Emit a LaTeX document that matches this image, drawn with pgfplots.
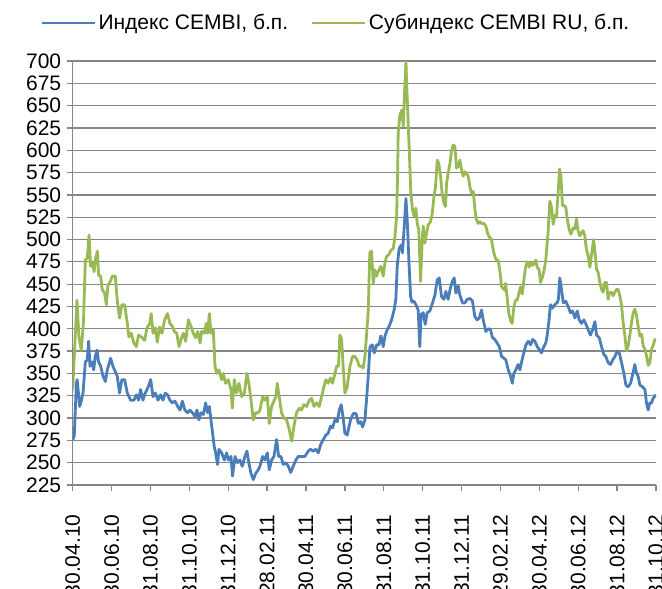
\documentclass[border=0pt]{standalone}
\usepackage{fontspec}
\setmainfont{Liberation Sans}
\usepackage{pgfplots}
\usepackage{pgfplotstable}
\pgfplotsset{compat=1.18}
\definecolor{cblue}{HTML}{4A7EBB}
\definecolor{cgreen}{HTML}{98B954}
\definecolor{cgrid}{HTML}{868686}

\pgfplotstableread{
m v
0.00 275
0.08 280
0.19 339
0.23 343
0.36 313
0.44 319
0.53 328
0.65 363
0.75 365
0.82 386
0.89 358
0.99 363
1.08 354
1.16 369
1.25 376
1.33 363
1.44 358
1.56 347
1.68 341
1.78 354
1.95 367
2.07 358
2.19 352
2.29 347
2.41 328
2.53 343
2.67 343
2.81 328
2.98 320
3.15 320
3.27 326
3.39 320
3.49 332
3.61 320
3.73 328
3.87 334
4.01 343
4.13 324
4.25 328
4.39 320
4.52 326
4.64 320
4.76 328
4.88 326
5.00 320
5.12 317
5.26 319
5.40 313
5.52 309
5.64 319
5.77 309
5.91 306
6.03 309
6.15 306
6.29 302
6.39 309
6.49 298
6.60 306
6.72 304
6.84 317
6.94 306
7.03 313
7.15 291
7.28 268
7.35 261
7.45 248
7.52 265
7.66 261
7.80 253
7.92 261
8.00 253
8.14 257
8.22 235
8.35 257
8.48 250
8.60 253
8.72 246
8.86 257
8.96 263
9.06 250
9.17 238
9.29 231
9.41 238
9.54 242
9.63 246
9.77 257
9.89 253
10.01 261
10.11 242
10.23 253
10.35 257
10.49 276
10.59 257
10.71 257
10.83 248
10.97 250
11.09 246
11.21 239
11.34 246
11.48 253
11.60 257
11.77 257
11.94 257
12.12 263
12.23 265
12.37 263
12.51 265
12.63 261
12.75 270
12.89 276
13.02 281
13.14 283
13.26 291
13.36 289
13.49 298
13.61 296
13.71 309
13.81 315
13.91 300
14.00 283
14.12 281
14.29 298
14.43 305
14.57 305
14.69 294
14.81 296
14.91 290
15.03 298
15.11 320
15.20 347
15.29 380
15.41 382
15.51 373
15.63 382
15.75 382
15.85 392
15.97 380
16.06 392
16.18 399
16.28 403
16.40 410
16.52 420
16.62 433
16.69 470
16.79 490
16.91 494
16.96 485
17.03 507
17.14 546
17.22 515
17.29 477
17.38 436
17.45 430
17.55 431
17.65 427
17.77 421
17.85 380
17.92 416
18.03 418
18.13 405
18.23 418
18.37 420
18.51 429
18.63 438
18.75 455
18.85 457
18.97 436
19.09 433
19.19 442
19.31 433
19.43 446
19.53 453
19.62 457
19.71 440
19.83 448
19.91 438
20.05 429
20.17 429
20.29 433
20.43 434
20.56 431
20.68 414
20.80 410
20.91 412
21.03 421
21.11 410
21.25 397
21.37 400
21.49 399
21.59 390
21.71 388
21.83 384
21.94 380
22.06 369
22.18 367
22.28 365
22.40 354
22.52 347
22.61 339
22.69 350
22.79 354
22.91 360
23.00 354
23.08 362
23.20 373
23.31 382
23.43 386
23.55 382
23.65 388
23.77 386
23.89 380
24.02 376
24.11 373
24.23 380
24.33 384
24.40 392
24.50 410
24.57 427
24.67 423
24.79 427
24.91 429
24.98 433
25.05 457
25.14 444
25.23 429
25.36 431
25.48 425
25.60 418
25.71 420
25.83 412
25.95 420
26.05 410
26.17 406
26.29 410
26.40 405
26.51 399
26.63 393
26.74 399
26.86 408
26.94 393
27.08 390
27.20 380
27.32 371
27.42 369
27.54 362
27.66 360
27.77 365
27.89 369
28.00 375
28.11 373
28.23 362
28.35 350
28.45 337
28.57 335
28.69 339
28.79 348
28.91 360
29.00 350
29.08 347
29.17 337
29.31 335
29.43 332
29.51 317
29.60 309
29.68 317
29.77 317
29.85 322
30.00 326
}\blue

\pgfplotstableread{
m v
0.00 332
0.22 432
0.32 391
0.44 376
0.55 406
0.65 477
0.75 479
0.84 505
0.92 470
1.01 475
1.10 464
1.16 477
1.27 487
1.33 460
1.44 459
1.52 444
1.64 440
1.73 427
1.81 448
1.93 453
2.04 459
2.19 459
2.29 432
2.41 412
2.53 427
2.67 427
2.81 406
2.89 391
3.01 395
3.15 384
3.27 380
3.39 393
3.53 391
3.70 387
3.82 401
3.96 406
4.04 417
4.13 395
4.25 401
4.35 385
4.47 402
4.59 395
4.73 410
4.88 417
5.00 406
5.12 403
5.23 397
5.35 395
5.47 380
5.57 388
5.69 395
5.81 386
5.95 410
6.08 403
6.20 395
6.32 390
6.43 397
6.55 384
6.63 397
6.77 395
6.87 406
6.94 395
7.03 417
7.11 395
7.23 399
7.32 358
7.40 350
7.52 354
7.66 343
7.74 350
7.86 339
8.00 343
8.14 332
8.21 311
8.31 343
8.43 328
8.55 339
8.69 324
8.83 328
8.96 350
9.06 339
9.17 320
9.29 298
9.41 306
9.54 306
9.63 309
9.77 324
9.89 320
10.01 324
10.11 294
10.23 313
10.35 319
10.45 324
10.52 339
10.62 324
10.74 306
10.86 300
11.00 298
11.14 287
11.26 274
11.38 291
11.51 306
11.65 311
11.77 309
11.89 315
12.03 313
12.17 320
12.29 322
12.41 313
12.54 317
12.68 313
12.80 324
12.92 335
13.02 343
13.14 339
13.26 345
13.36 339
13.49 350
13.57 358
13.67 358
13.74 393
13.83 388
13.91 358
14.00 328
14.12 335
14.26 358
14.39 369
14.51 369
14.63 365
14.74 358
14.86 358
14.94 356
15.03 369
15.11 392
15.20 420
15.28 485
15.37 487
15.46 451
15.54 466
15.63 459
15.71 464
15.85 470
15.97 459
16.06 474
16.14 481
16.26 483
16.37 488
16.49 490
16.57 503
16.66 526
16.71 571
16.74 619
16.83 640
16.93 645
17.00 627
17.05 656
17.14 699
17.22 649
17.31 600
17.39 552
17.48 533
17.57 526
17.65 535
17.72 518
17.80 511
17.89 453
17.98 500
18.03 515
18.11 496
18.20 507
18.28 516
18.40 520
18.49 529
18.58 548
18.66 559
18.75 589
18.83 585
18.92 571
19.00 552
19.09 541
19.17 537
19.23 563
19.31 574
19.40 585
19.49 600
19.57 606
19.66 604
19.74 580
19.83 582
19.91 589
20.00 578
20.08 571
20.17 576
20.25 574
20.34 571
20.43 559
20.51 552
20.60 554
20.69 533
20.77 522
20.86 518
20.94 520
21.03 518
21.15 518
21.25 515
21.34 507
21.42 503
21.54 500
21.63 488
21.71 481
21.80 477
21.88 477
21.97 465
22.06 447
22.14 445
22.23 443
22.26 451
22.34 436
22.43 417
22.51 410
22.60 406
22.69 424
22.77 432
22.86 432
22.94 439
23.03 447
23.12 439
23.20 454
23.29 469
23.38 475
23.48 469
23.56 475
23.65 471
23.74 473
23.82 477
23.89 469
23.99 466
24.06 452
24.16 458
24.25 466
24.33 477
24.45 508
24.54 543
24.63 536
24.71 517
24.80 527
24.88 525
24.97 553
25.04 579
25.11 571
25.19 538
25.28 538
25.36 536
25.45 521
25.53 512
25.62 506
25.74 513
25.82 512
25.91 523
25.99 510
26.08 504
26.17 508
26.25 510
26.34 504
26.42 489
26.51 482
26.60 469
26.68 482
26.79 500
26.85 489
26.94 467
27.03 463
27.11 452
27.20 444
27.28 441
27.37 452
27.45 452
27.54 433
27.62 441
27.71 441
27.80 437
27.88 441
27.97 444
28.05 444
28.14 437
28.23 426
28.31 407
28.40 392
28.48 375
28.57 381
28.65 392
28.74 407
28.83 418
28.91 422
29.00 415
29.08 403
29.17 392
29.26 394
29.34 381
29.43 377
29.51 370
29.60 359
29.68 362
29.77 377
29.85 381
29.94 388
30.00 386
}\green

\begin{document}
\begin{tikzpicture}
\begin{axis}[
  at={(0,0)}, anchor=south west,
  scale only axis, width=583.3pt, height=424pt,
  xmin=0, xmax=30, ymin=225, ymax=700,
  ytick={225,250,...,700},
  xtick={0,2,...,30},
  xticklabels={30.04.10,30.06.10,31.08.10,31.10.10,31.12.10,28.02.11,30.04.11,30.06.11,31.08.11,31.10.11,31.12.11,29.02.12,30.04.12,30.06.12,31.08.12,31.10.12},
  axis x line*=bottom, axis y line*=left,
  axis line style={cgrid, line width=1.3pt},
  ymajorgrids, major grid style={cgrid, line width=1.3pt},
  tick align=outside, major tick length=6pt,
  tick style={cgrid, line width=1.3pt},
  /pgf/number format/assume math mode=true,
  tick label style={font=\fontsize{21}{25}\selectfont, text=black},
  yticklabel style={xshift=-2pt},
  xticklabel style={rotate=90, anchor=east},
  xticklabel shift=20pt,
  legend style={draw=none, fill=none, at={(-0.056,1.0896)}, anchor=west,
    font=\fontsize{21}{25}\selectfont, inner sep=0pt,
    nodes={inner sep=2.5pt},
    /tikz/every even column/.append style={column sep=20pt}},
  legend columns=-1,
  legend image code/.code={\draw[#1] (0pt,0pt) -- (53pt,0pt);},
  every axis plot/.append style={line width=2.8pt, line join=round, mark=none},
]
\addplot[cblue] table[x=m, y=v] {\blue};
\addlegendentry{Индекс CEMBI, б.п.}
\addplot[cgreen] table[x=m, y=v] {\green};
\addlegendentry{Субиндекс CEMBI RU, б.п.}
\end{axis}
\pgfresetboundingbox
\useasboundingbox (-72.7pt,-104pt) rectangle (589.3pt,485pt);
\end{tikzpicture}
\end{document}
